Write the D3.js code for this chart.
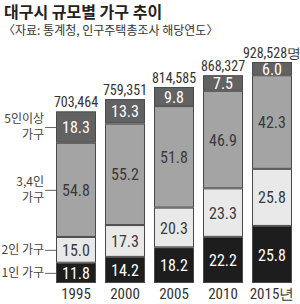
<!DOCTYPE html>
<html><head><meta charset="utf-8">
<script src="https://cdn.jsdelivr.net/npm/d3@7"></script>
<style>
html,body{margin:0;padding:0;background:#fff;}
svg{display:block;}
</style></head>
<body>
<script>
const years = ["1995","2000","2005","2010","2015"];
const yearLabels = ["1995","2000","2005","2010","2015년"];
const totals = [703464, 759351, 814585, 868327, 928528];
const totalLabels = ["703,464","759,351","814,585","868,327","928,528명"];
const onePerson = [11.8, 14.2, 18.2, 22.2, 25.8];
const twoPerson = [15.0, 17.3, 20.3, 23.3, 25.8];
const threeFourPerson = [54.8, 55.2, 51.8, 46.9, 42.3];
const fivePlus = [18.3, 13.3, 9.8, 7.5, 6.0];
const seriesKeys = ["one","two","threeFour","five"];
const seriesNames = [["1인 가구"],["2인 가구"],["3,4인","가구"],["5인이상","가구"]];
const seriesValues = [onePerson, twoPerson, threeFourPerson, fivePlus];
const title = "대구시 규모별 가구 추이";
const subtitle = "〈자료: 통계청, 인구주택총조사 해당연도〉";

const colors = {one:"#1d1d1d", two:"#e9e9e9", threeFour:"#a4a4a4", five:"#626262"};
const textColors = {one:"#ffffff", two:"#3a3a3a", threeFour:"#3a3a3a", five:"#ffffff"};
const numFont = "'Liberation Sans Narrow','Roboto Condensed','Arial Narrow',sans-serif";
const korFont = "'Noto Sans CJK KR','Noto Sans',sans-serif";

const W = 300, H = 304;
const svg = d3.select("body").append("svg").attr("width", W).attr("height", H);

svg.append("text").attr("x", 4).attr("y", 18)
  .attr("font-family", korFont).attr("font-weight", "bold").attr("font-size", 16)
  .attr("fill", "#222").text(title);
svg.append("text").attr("x", 3).attr("y", 35)
  .attr("font-family", korFont).attr("font-size", 12)
  .attr("fill", "#333").text(subtitle);

const x = d3.scaleBand().domain(years).range([56, 292]).paddingInner(0.184).paddingOuter(0);
const y = d3.scaleLinear().domain([-80000, 928528]).range([283, 62]);

const rows = years.map((yr, i) => {
  const r = {year: yr, total: totals[i]};
  seriesKeys.forEach((k, j) => r[k] = seriesValues[j][i]);
  return r;
});

const bars = svg.append("g").selectAll("g").data(rows).join("g");

bars.each(function(d, i) {
  const g = d3.select(this);
  const sum = seriesKeys.reduce((a, k) => a + d[k], 0);
  const s = d3.scaleLinear().domain([0, sum]).range([y(-80000), y(d.total)]);
  let acc = 0;
  seriesKeys.forEach(k => {
    const y0 = s(acc), y1 = s(acc + d[k]);
    acc += d[k];
    g.append("rect").attr("x", x(d.year) + 0.5).attr("y", y1 + 0.5)
      .attr("width", x.bandwidth() - 1).attr("height", y0 - y1 - 1)
      .attr("fill", colors[k]).attr("stroke", "#4a4a4a").attr("stroke-width", 1);
    g.append("text").attr("x", x(d.year) + x.bandwidth()/2).attr("y", (y0 + y1)/2)
      .attr("dy", "0.38em").attr("text-anchor", "middle")
      .attr("font-family", numFont).attr("font-size", 16)
      .attr("fill", textColors[k]).text(d3.format(".1f")(d[k]));
  });
  g.append("text").attr("x", x(d.year) + x.bandwidth()/2).attr("y", y(d.total) - 4)
    .attr("text-anchor", "middle").attr("font-family", numFont).attr("font-size", 14)
    .attr("fill", "#333").text(totalLabels[i]);
  g.append("text").attr("x", x(d.year) + x.bandwidth()/2).attr("y", 299)
    .attr("text-anchor", "middle").attr("font-family", numFont).attr("font-size", 15)
    .attr("fill", "#333").text(yearLabels[i]);
});

// left side series labels, aligned to the first bar
const first = rows[0];
const sum0 = seriesKeys.reduce((a, k) => a + first[k], 0);
const s0 = d3.scaleLinear().domain([0, sum0]).range([y(-80000), y(first.total)]);
let acc0 = 0;
const labG = svg.append("g");
seriesKeys.forEach((k, j) => {
  const cy = (s0(acc0) + s0(acc0 + first[k])) / 2;
  acc0 += first[k];
  const lines = seriesNames[j];
  const lh = 16;
  labG.append("line").attr("x1", 45).attr("x2", x(first.year)).attr("y1", cy + 0.5).attr("y2", cy + 0.5)
    .attr("stroke", "#666").attr("stroke-width", 1);
  lines.forEach((t, li) => {
    labG.append("text").attr("x", 44)
      .attr("y", cy + (li - (lines.length - 1)/2) * lh)
      .attr("dy", "0.36em").attr("text-anchor", "end")
      .attr("font-family", korFont).attr("font-size", 12)
      .attr("fill", "#444").text(t);
  });
});
</script>
</body></html>
